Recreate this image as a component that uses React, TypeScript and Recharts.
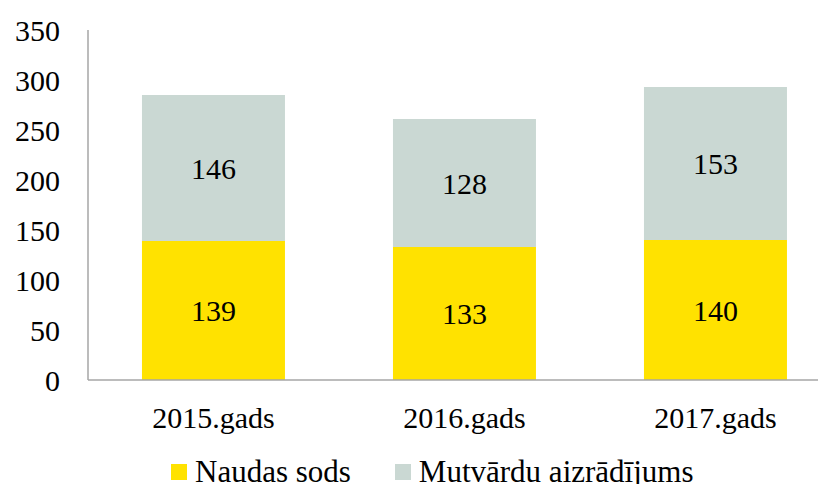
import { Bar, BarChart, LabelList, Legend, XAxis, YAxis } from 'recharts'

const years = ['2015.gads', '2016.gads', '2017.gads']
const naudasSods = [139, 133, 140]
const mutvarduAizradijums = [146, 128, 153]
const yTicks = [0, 50, 100, 150, 200, 250, 300, 350]

const YELLOW = '#FFE200'
const GREY = '#CAD8D3'
const AXIS = '#A6A6A6'
const FONT = 'Liberation Serif'

const data = years.map((year, i) => ({
  year,
  sods: naudasSods[i],
  aizradijums: mutvarduAizradijums[i],
}))

function LegendBox() {
  const items = [
    { label: 'Naudas sods', color: YELLOW },
    { label: 'Mutvārdu aizrādījums', color: GREY },
  ]
  return (
    <div style={{ height: 60, display: 'flex', alignItems: 'center', paddingLeft: 171, paddingTop: 20, boxSizing: 'border-box', fontFamily: FONT, fontSize: 31, color: '#000' }}>
      {items.map((item) => (
        <div key={item.label} style={{ display: 'flex', alignItems: 'center', marginRight: 44, lineHeight: '28px' }}>
          <span style={{ width: 16, height: 16, background: item.color, display: 'inline-block', marginRight: 8 }} />
          <span>{item.label}</span>
        </div>
      ))}
    </div>
  )
}

export default function App() {
  return (
    <div style={{ margin: -8, width: 826, height: 492, overflow: 'hidden', background: '#fff' }}>
      <BarChart
        width={841}
        height={492}
        data={data}
        margin={{ top: 30, right: 0, bottom: 0, left: 0 }}
        barCategoryGap="21.5%"
      >
        <XAxis
          dataKey="year"
          height={52}
          tickLine={false}
          tickSize={0}
          tickMargin={27}
          axisLine={{ stroke: AXIS, strokeWidth: 1.5 }}
          tick={{ fill: '#000', fontSize: 30, fontFamily: FONT }}
        />
        <YAxis
          width={88}
          domain={[0, 350]}
          ticks={yTicks}
          interval={0}
          tickLine={false}
          tickSize={0}
          tickMargin={28}
          axisLine={{ stroke: AXIS, strokeWidth: 1.5 }}
          tick={{ fill: '#000', fontSize: 30, fontFamily: FONT }}
        />
        <Legend verticalAlign="bottom" align="left" content={() => <LegendBox />} wrapperStyle={{ left: 0, width: 841 }} />
        <Bar dataKey="sods" stackId="a" fill={YELLOW} isAnimationActive={false}>
          <LabelList dataKey="sods" position="center" fill="#000" fontSize={30} fontFamily={FONT} />
        </Bar>
        <Bar dataKey="aizradijums" stackId="a" fill={GREY} isAnimationActive={false}>
          <LabelList dataKey="aizradijums" position="center" fill="#000" fontSize={30} fontFamily={FONT} />
        </Bar>
      </BarChart>
    </div>
  )
}
